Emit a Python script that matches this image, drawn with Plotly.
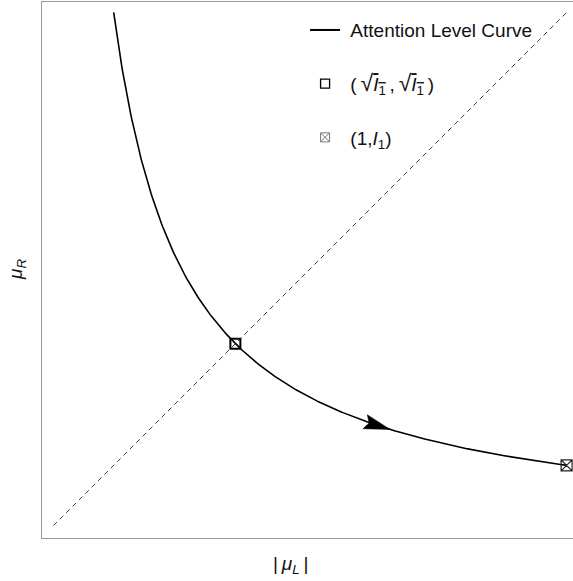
import numpy as np
import plotly.graph_objects as go

# ---- data ----
I1 = 0.135                      # attention level
curve_x_end = 1.0               # curve drawn from y=1 down to x=1
diag_start = 0.02
diag_end = 1.0
arrow_tip_x = 0.663             # where the direction arrow sits on the curve
SQ = ("<span style='font-size:23px'>\u221a</span>"
      "<span style='text-decoration:overline'><i>I</i><sub>1</sub></span>")
legend_names = ["\u00a0Attention Level Curve",
                "\u00a0(\u2009" + SQ + "\u2009,\u2009" + SQ + "\u2009)",
                "\u00a0(1,<i>I</i><sub>1</sub>)"]

s = np.sqrt(I1)
cx = np.linspace(I1, curve_x_end, 400)
cy = I1 / cx

# arrowhead geometry (data units; axes have equal scale)
L = 0.050
W = 0.028
notch = 0.008
tx = arrow_tip_x
ty = I1 / tx
u = np.array([1.0, -I1 / tx**2]); u /= np.linalg.norm(u)
n = np.array([-u[1], u[0]])
T = np.array([tx, ty])
B = T - L * u
P1 = B + W / 2 * n
P2 = B - W / 2 * n
N = B + notch * u
ah = np.array([T, P1, N, P2, T])

FONT = "Liberation Sans, Arial, sans-serif"
fig = go.Figure()

fig.add_trace(go.Scatter(x=[diag_start, diag_end], y=[diag_start, diag_end], mode="lines",
                         line=dict(color="#444", width=1, dash="5px,4px"),
                         showlegend=False, hoverinfo="skip"))
fig.add_trace(go.Scatter(x=cx, y=cy, mode="lines", line=dict(color="black", width=1.6),
                         showlegend=False))
fig.add_trace(go.Scatter(x=ah[:, 0], y=ah[:, 1], mode="lines", fill="toself",
                         fillcolor="black", line=dict(color="black", width=0.5),
                         showlegend=False, hoverinfo="skip"))
fig.add_trace(go.Scatter(x=[s], y=[s], mode="markers",
                         marker=dict(symbol="square-open", size=10, color="black",
                                     line=dict(width=2, color="black")),
                         showlegend=False))
fig.add_trace(go.Scatter(x=[1.0], y=[I1], mode="markers",
                         marker=dict(symbol="square-x-open", size=11, color="#222",
                                     line=dict(width=1.2, color="#222")),
                         showlegend=False))

# legend entries
fig.add_trace(go.Scatter(x=[None], y=[None], mode="lines", name=legend_names[0],
                         line=dict(color="black", width=2), legendgroup="a"))
fig.add_trace(go.Scatter(x=[None], y=[None], mode="markers", name=legend_names[1],
                         marker=dict(symbol="square-open", size=9, color="black",
                                     line=dict(width=1.3, color="black")), legendgroup="b"))
fig.add_trace(go.Scatter(x=[None], y=[None], mode="markers", name=legend_names[2],
                         marker=dict(symbol="square-x-open", size=9, color="#777",
                                     line=dict(width=1, color="#777")), legendgroup="c"))

fig.update_layout(
    width=580, height=581,
    margin=dict(l=42, r=0, t=2, b=43),
    paper_bgcolor="white", plot_bgcolor="white",
    font=dict(family=FONT, size=19, color="#111"),
    showlegend=True,
    legend=dict(x=0.489, y=0.983, xanchor="left", yanchor="top",
                bgcolor="rgba(0,0,0,0)", tracegroupgap=26,
                font=dict(family=FONT, size=19, color="#111")),
    xaxis=dict(range=[-0.0019, 1.0256], showgrid=False, zeroline=False,
               showticklabels=False, ticks="", showline=True, linecolor="#999",
               linewidth=1, mirror=True),
    yaxis=dict(range=[-0.0038, 1.0199], showgrid=False, zeroline=False,
               showticklabels=False, ticks="", showline=True, linecolor="#999",
               linewidth=1, mirror=False),
)

fig.add_annotation(text="|\u2009<i>\u03bc</i><sub><i>L</i></sub>\u2009|", xref="paper", yref="paper",
                   x=0.461, y=-0.05, showarrow=False, xanchor="center", yanchor="middle",
                   font=dict(family=FONT, size=19, color="#111"))
fig.add_annotation(text="<i>\u03bc</i><sub><i>R</i></sub>", xref="paper", yref="paper",
                   x=-0.0464, y=0.5, showarrow=False, textangle=-90, xanchor="center",
                   yanchor="middle", font=dict(family=FONT, size=19, color="#111"))

fig.write_html("out.html", config={"displayModeBar": False},
               post_script="document.body.style.margin='0';document.body.style.overflow='hidden';")
